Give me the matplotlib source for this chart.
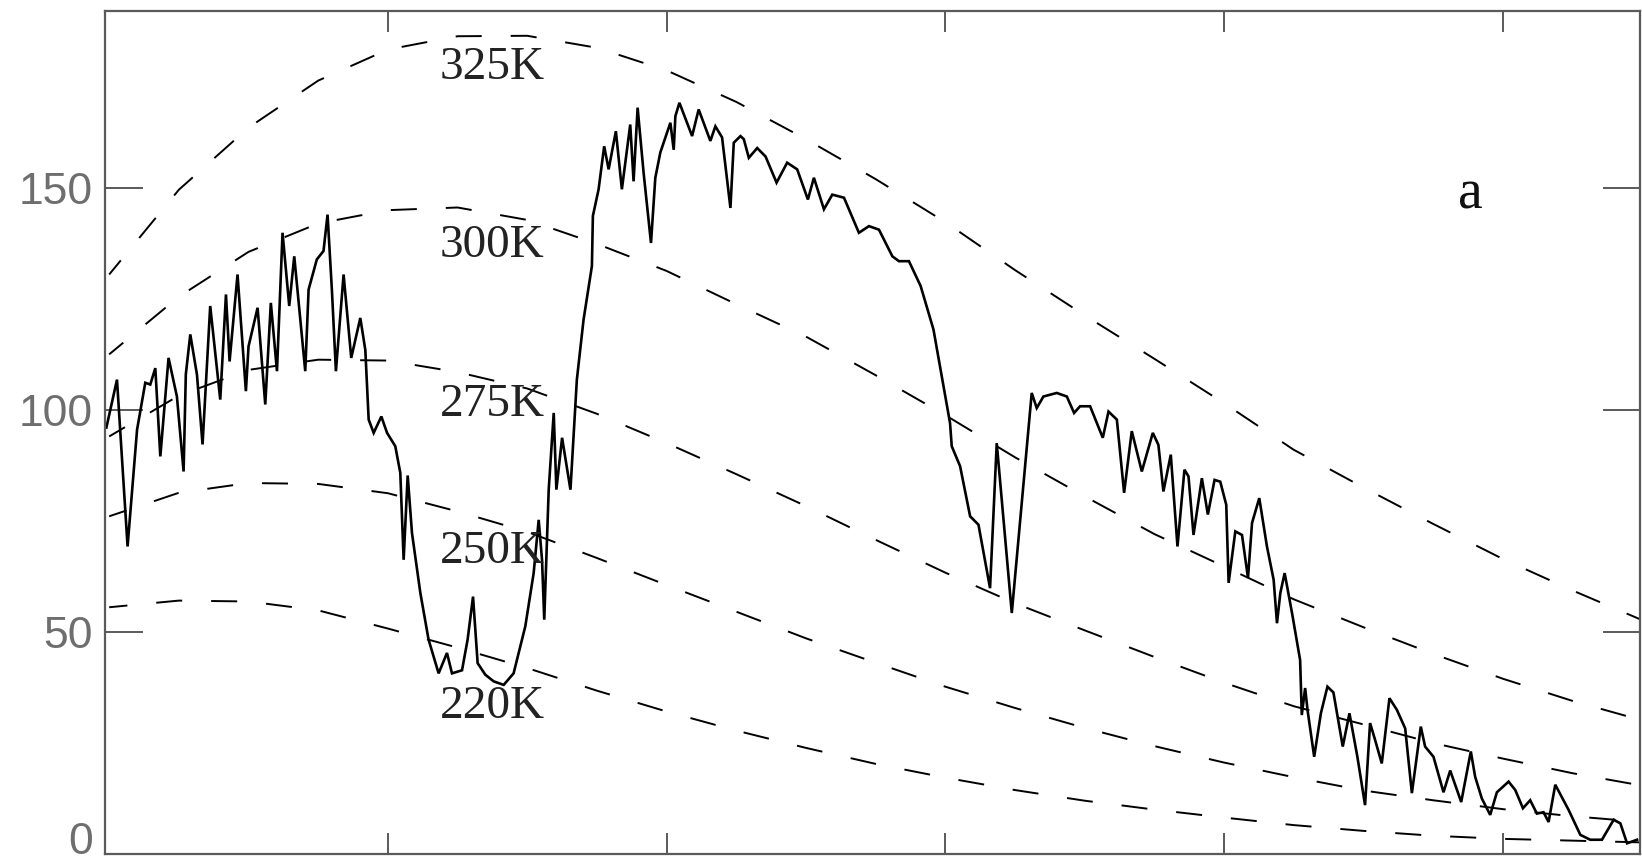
import matplotlib

matplotlib.use("Agg")
import matplotlib.pyplot as plt

# measured spectrum (wavenumber cm-1, radiance)
wavenumber = [
    398, 405.6, 413.2, 420.0, 425.9, 429.5, 433.1, 436.7, 442.6, 448.6, 453.4, 455.0,
    458.2, 463.0, 467.0, 472.5, 479.7, 483.8, 486.4, 492.1, 498.1, 500.0, 506.5, 512.0,
    516.0, 520.4, 524.4, 529.2, 532.8, 540.7, 543.1, 549.0, 553.8, 556.7, 559.8, 562.7,
    568.2, 573.7, 580.2, 583.8, 586.2, 589.8, 595.3, 599.4, 605.3, 608.9, 611.3, 614.2,
    617.3, 623.3, 629.2, 636.4, 642.4, 646.0, 653.2, 657.2, 661.1, 664.4, 669.9, 675.9,
    683.1, 690.2, 698.6, 704.6, 708.2, 710.6, 712.2, 715.4, 719.0, 720.9, 725.0, 731.0,
    735.6, 740.4, 742.8, 746.4, 747.1, 751.2, 755.2, 758.4, 763.6, 767.9, 773.9, 776.3,
    779.2, 783.5, 788.8, 791.9, 795.5, 802.7, 805.1, 806.3, 809.2, 818.3, 823.0, 831.4,
    835.0, 839.8, 845.8, 848.2, 853.0, 855.4, 859.0, 865.0, 871.0, 878.9, 886.5, 893.7,
    901.4, 905.7, 912.9, 918.9, 927.3, 938.0, 945.2, 952.4, 962.0, 966.7, 973.9, 982.3,
    991.5, 1003.4, 1004.6, 1010.6, 1017.8, 1023.8, 1032.1, 1036.9, 1047.7, 1062.0, 1065.6,
    1070.4, 1080.0, 1087.2, 1092.4, 1096.7, 1103.9, 1113.0, 1117.1, 1123.1, 1128.3,
    1133.8, 1141.0, 1148.9, 1152.9, 1156.5, 1161.8, 1166.6, 1171.6, 1174.5, 1178.1,
    1184.1, 1188.4, 1193.2, 1197.3, 1201.6, 1203.3, 1208.1, 1212.9, 1217.2, 1220.1,
    1225.3, 1230.8, 1235.6, 1238.0, 1240.4, 1243.5, 1248.8, 1254.6, 1255.8, 1258.2,
    1259.9, 1264.7, 1269.5, 1274.2, 1278.5, 1285.2, 1290.0, 1295.7, 1301.2, 1304.8,
    1308.4, 1313.2, 1318.7, 1324.0, 1330.0, 1334.8, 1341.2, 1344.3, 1350.3, 1357.5,
    1362.3, 1370.2, 1377.1, 1380.2, 1385.0, 1391.0, 1395.8, 1404.2, 1409.0, 1414.5,
    1419.7, 1424.5, 1429.3, 1432.9, 1437.7, 1447.3, 1455.7, 1462.8, 1471.2, 1479.6,
    1484.4, 1489.2, 1496.4,
]
radiance = [
    96.0, 106.8, 69.2, 95.5, 106.1, 105.7, 109.4, 89.5, 111.7, 103.0, 86.1, 108.0,
    117.0, 107.9, 92.2, 123.4, 102.3, 126.0, 110.9, 130.5, 104.2, 114.3, 123.0, 101.2,
    124.1, 108.7, 139.9, 123.4, 134.6, 108.7, 127.1, 133.9, 135.8, 144.0, 127.1, 108.7,
    130.5, 111.7, 120.7, 113.5, 97.8, 94.8, 98.5, 94.8, 91.8, 85.8, 66.2, 85.2,
    72.2, 58.7, 48.2, 40.6, 45.2, 40.6, 41.3, 48.2, 57.9, 42.9, 40.3, 38.8,
    38.0, 40.6, 51.2, 63.2, 75.2, 66.2, 52.7, 82.0, 99.3, 82.0, 93.7, 82.0,
    106.8, 120.3, 125.2, 132.4, 143.7, 149.7, 159.4, 154.2, 162.8, 149.7, 164.3, 151.5,
    168.1, 153.4, 137.6, 152.3, 158.0, 164.7, 158.6, 166.2, 169.2, 161.7, 167.7, 160.6,
    163.9, 161.4, 145.5, 160.2, 161.7, 161.0, 156.8, 159.0, 157.1, 151.2, 155.7, 154.2,
    147.4, 152.3, 145.2, 148.5, 147.8, 139.9, 141.4, 140.6, 134.6, 133.5, 133.5, 127.9,
    118.1, 97.0, 91.8, 87.3, 76.0, 74.1, 59.8, 92.5, 54.2, 103.8, 100.4,
    103.0, 103.8, 103.0, 99.3, 100.8, 100.8, 93.7, 99.6, 97.8, 81.3,
    95.2, 86.1, 94.8, 92.1, 81.6, 89.9, 69.2, 86.5, 85.0, 71.8,
    84.6, 76.4, 84.2, 83.8, 78.6, 61.0, 72.6, 71.8, 62.1, 74.5,
    80.1, 69.2, 61.7, 51.9, 58.7, 63.2, 54.2, 43.6, 31.2, 37.3,
    32.4, 21.8, 31.6, 37.6, 36.3, 24.1, 31.6, 21.8, 10.9, 29.4,
    25.6, 20.3, 35.0, 32.4, 28.2, 13.6, 28.6, 24.1, 21.8, 13.8,
    18.7, 11.6, 23.0, 17.3, 12.4, 8.7, 13.8, 16.2, 14.3, 10.2,
    12.0, 9.0, 9.3, 7.1, 15.5, 9.8, 4.2, 3.1, 3.1, 7.6,
    6.8, 2.3, 3.1,
]

# blackbody reference curves
bb_nu = [400, 450, 500, 550, 600, 650, 700, 750, 800, 850, 900, 950,
         1000, 1050, 1100, 1150, 1200, 1250, 1300, 1350, 1400, 1450, 1500]
bb_325 = [130.5, 149.6, 163.6, 174.2, 181.2, 184.2, 184.3, 181.6, 176.5, 169.4, 161, 152,
          142.3, 131.5, 121.3, 111.5, 101.5, 91, 82.5, 74.3, 66.4, 59.3, 52.6]
bb_300 = [112.5, 125.5, 135.6, 142, 145, 145.6, 142.8, 137.4, 131.3, 123.8, 116.5, 107.8,
          98.8, 89.3, 80.5, 72, 64.7, 57.3, 51, 45, 39.4, 34.4, 30]
bb_275 = [94, 103.2, 109, 111.3, 111.1, 108.5, 104.8, 99.1, 92.5, 85.5, 78.3, 70.7,
          63.3, 56.4, 50.3, 44.3, 38.5, 33.2, 29.1, 24.9, 21.4, 18.1, 15.3]
bb_250 = [76, 81.3, 83.5, 83.3, 81.2, 77.1, 72.5, 66.6, 60.5, 54.5, 48.5, 43,
          37.6, 32.8, 28.3, 24.2, 20.5, 17.2, 14.2, 12, 10, 8.4, 7.1]
bb_220 = [55.5, 57, 56.8, 54.8, 50.7, 46.4, 41.8, 36.7, 32, 27.7, 23.8, 20.2,
          17.1, 14.3, 11.9, 9.9, 8.1, 6.4, 5.1, 4.0, 3.3, 2.9, 2.5]
bb_labels = ["325K", "300K", "275K", "250K", "220K"]
label_y = [177.2, 137, 101.1, 68, 33]

y_ticks = [0, 50, 100, 150]
x_ticks = [600, 800, 1000, 1200, 1400]

FRAME = "#5a5a5a"

fig = plt.figure(figsize=(16.42, 8.60), dpi=100, facecolor="white")
ax = fig.add_axes([105 / 1642, 6.5 / 860, 1535 / 1642, 843 / 860])

for curve in [bb_325, bb_300, bb_275, bb_250, bb_220]:
    ax.plot(bb_nu, curve, color="black", linewidth=1.4, linestyle=(4, (13.4, 14.9)))

ax.plot(wavenumber, radiance, color="black", linewidth=1.9, solid_joinstyle="miter")

for text, y in zip(bb_labels, label_y):
    ax.text(675, y, text, ha="center", va="center", fontsize=34,
            family="Liberation Serif", color="#222222")
ax.text(1377, 148.5, "a", ha="center", va="center", fontsize=40,
        family="Liberation Serif", color="#111111")

ax.set_xlim(397, 1498.5)
ax.set_ylim(0, 190)
ax.set_xticks(x_ticks)
ax.set_xticklabels([])
ax.set_yticks(y_ticks, [str(t) for t in y_ticks])
ax.tick_params(axis="y", which="both", direction="in", length=27, width=1.4, color=FRAME,
               left=True, right=True, pad=9, labelsize=32, labelcolor="#6e6e6e")
ax.tick_params(axis="x", which="both", direction="in", length=15, width=1.4, color=FRAME,
               top=True, bottom=True)
for lab in ax.get_yticklabels():
    lab.set_family("Liberation Sans")
    if lab.get_text() == "0":
        lab.set_verticalalignment("baseline")
for side in ax.spines.values():
    side.set_color(FRAME)
    side.set_linewidth(1.6)

fig.savefig("out.png", dpi=100, facecolor="white")
